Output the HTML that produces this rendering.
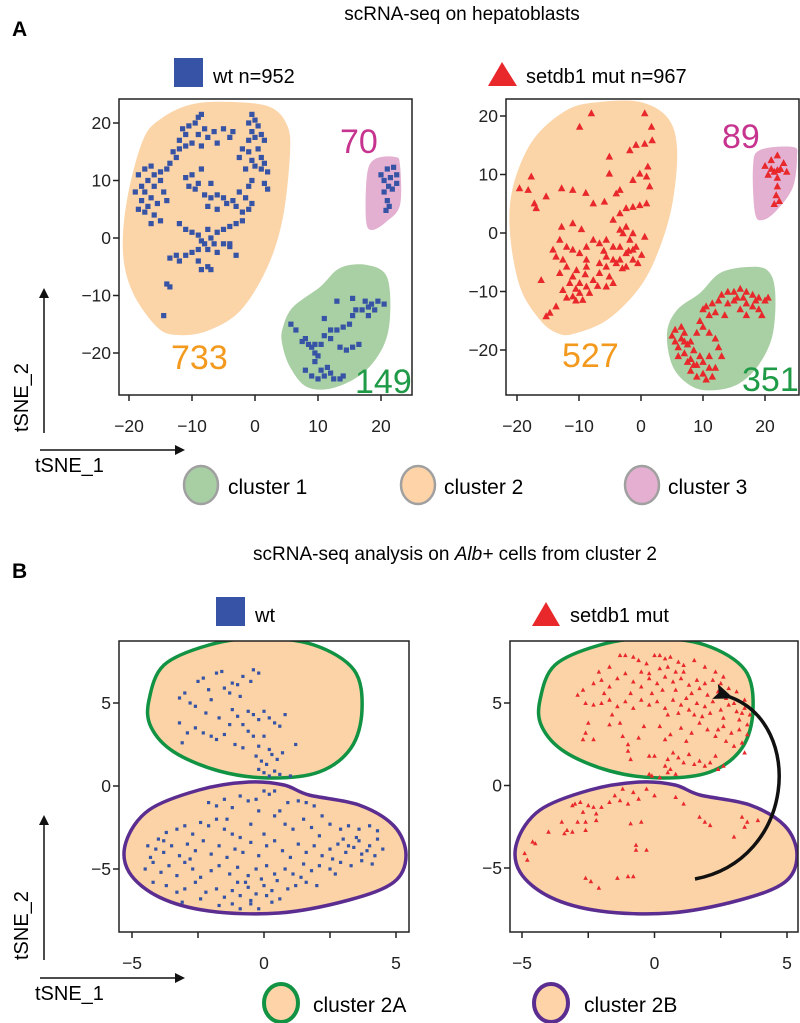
<!DOCTYPE html>
<html><head><meta charset="utf-8">
<style>
html,body{margin:0;padding:0;background:#fff;}
svg{display:block;font-family:"Liberation Sans",Arial,sans-serif;}
.tick{font-size:17.5px;fill:#222;}
</style></head>
<body>
<svg id="fig" width="800" height="1023" viewBox="0 0 800 1023" xmlns="http://www.w3.org/2000/svg">
<defs>
<marker id="ah" markerWidth="10" markerHeight="10" refX="8" refY="5" orient="auto" markerUnits="userSpaceOnUse">
<path d="M0,0 L10,5 L0,10 z" fill="#111"/></marker>
<marker id="ah2" markerWidth="20" markerHeight="16" refX="4" refY="8" orient="auto" markerUnits="userSpaceOnUse">
<path d="M0,8 L20,0 L16,8 L20,16 z" fill="#111"/></marker>
<clipPath id="cA1"><rect x="119" y="99" width="293" height="296"/></clipPath>
<clipPath id="cA2"><rect x="506" y="99" width="293" height="296"/></clipPath>
<clipPath id="cB1"><rect x="119" y="641" width="290" height="291"/></clipPath>
<clipPath id="cB2"><rect x="510" y="641" width="288" height="291"/></clipPath>
</defs>

<text x="12" y="36" font-size="21" font-weight="bold">A</text>
<text x="462" y="20" text-anchor="middle" font-size="19">scRNA-seq on hepatoblasts</text>
<text x="12" y="578" font-size="21" font-weight="bold">B</text>
<text x="455" y="560" text-anchor="middle" font-size="19">scRNA-seq analysis on <tspan font-style="italic">Alb+</tspan> cells from cluster 2</text>

<rect x="174" y="58" width="29" height="29" fill="#3653a5"/>
<text x="213" y="83" font-size="20">wt n=952</text>
<path d="M488,86 L502,62 L517,86 z" fill="#e8282b"/>
<text x="526" y="83" font-size="20">setdb1 mut n=967</text>

<rect x="216" y="597" width="29" height="29" fill="#3653a5"/>
<text x="255" y="622" font-size="20">wt</text>
<path d="M532,626 L546,602 L560,626 z" fill="#e8282b"/>
<text x="570" y="622" font-size="20">setdb1 mut</text>

<ellipse cx="201" cy="485" rx="17" ry="19" fill="#a8cfa4" stroke="#a0a0a0" stroke-width="2.5"/>
<text x="228" y="494" font-size="21">cluster 1</text>
<ellipse cx="418" cy="485" rx="17" ry="19" fill="#fdd3a7" stroke="#a0a0a0" stroke-width="2.5"/>
<text x="444" y="494" font-size="21">cluster 2</text>
<ellipse cx="642" cy="485" rx="17" ry="19" fill="#e4afd0" stroke="#a0a0a0" stroke-width="2.5"/>
<text x="668" y="494" font-size="21">cluster 3</text>

<ellipse cx="281" cy="1003" rx="17" ry="19" fill="#fdd3a7" stroke="#129343" stroke-width="4"/>
<text x="313" y="1012" font-size="21">cluster 2A</text>
<ellipse cx="551" cy="1003" rx="17" ry="19" fill="#fdd3a7" stroke="#5b2d91" stroke-width="4"/>
<text x="584" y="1012" font-size="21">cluster 2B</text>

<line x1="44" y1="433" x2="44" y2="290" stroke="#111" stroke-width="1.5" marker-end="url(#ah)"/>
<text transform="translate(28,432) rotate(-90)" font-size="20">tSNE_2</text>
<line x1="40" y1="450" x2="183" y2="450" stroke="#111" stroke-width="1.5" marker-end="url(#ah)"/>
<text x="35" y="472" font-size="20">tSNE_1</text>
<line x1="44" y1="960" x2="44" y2="817" stroke="#111" stroke-width="1.5" marker-end="url(#ah)"/>
<text transform="translate(28,960) rotate(-90)" font-size="20">tSNE_2</text>
<line x1="40" y1="978" x2="183" y2="978" stroke="#111" stroke-width="1.5" marker-end="url(#ah)"/>
<text x="35" y="1000" font-size="20">tSNE_1</text>

<g id="plots"></g>
</svg>
<script>
// ---------- DATA ----------
const wtA_x_ticks = [-20,-10,0,10,20];
const wtA_y_ticks = [20,10,0,-10,-20];
const B_x_ticks = [-5,0,5];
const B_x_minor = [-5,-2.5,0,2.5,5];
const B_y_ticks = [5,0,-5];
const clusterCountsWt = [733,149,70];
const clusterCountsMut = [527,351,89];

const wtA_points = [[-18.5,11],[-17.5,12],[-16.5,12.5],[-16,11],[-17,10],[-18,9],[-19,8],[-17.5,8],[-16,9],[-15,10],[-14.5,8],[-16.5,7],[-18,6.5],[-17,5.5],[-15.5,6],[-14,6.5],[-17.5,4.5],[-16,4],[-15,3],[-16.5,2.5],[-15,11.5],[-14,12],[-18.5,5],
[-13.5,13],[-12.5,14],[-12,15.5],[-13,15],
[-12,17],[-11,18],[-10.5,19.5],[-9.5,20],[-9,21],[-8.5,21.5],[-11.5,19],[-10,16.5],[-9,18],[-8,19],[-8.5,16],[-11,16],[-7.5,17.5],[-6.5,18.5],[-5,19],[-4,17.5],[-3.5,18.5],[-6,16.5],
[-0.5,21.5],[0,20.5],[-1,20],[0.5,19.5],[-0.5,18.5],[1,18],[0,17.5],[-1,17],[1.5,17],[-2,15.5],[-1,15],[0.5,15.5],[1,14],[-0.5,13.5],[0,12.5],[-1.5,12],[1,12],[2,11.5],[1.5,13],[-2.5,14],[2,8.5],[1.5,9.5],
[-11,10.5],[-10,11],[-10.5,9],[-9.5,8.5],[-9,9.5],[-8,7.5],[-7,7],[-6,7.5],[-5,7],[-4.5,6],[-3.5,6.5],[-3,5.5],[-2,4.5],[-1,5],[-0.5,6],[-1.5,7],[-2.5,8],[-1,9],[-0.5,10],[-6,5],[-7.5,5.5],[-8.5,12],[-7,9.5],
[-12,2.5],[-11,1.5],[-10,1],[-9,0.5],[-8.5,-0.5],[-8,-1],[-7,0],[-6.5,-1],[-7.5,1.5],[-6,1],[-5,1.5],[-4,2],[-3,2.5],[-2,3],[-5,-1],[-4,-1.5],[-3,-3],[-6,-2.5],[-7.5,-2],[-9,-2],[-10,-2.5],[-11,-3],[-12.5,-3],[-13.5,-3.5],[-12,-4],[-9,-4],[-8.5,-5.5],[-7.5,-5],[-7,-5.5],[-4,-1],
[-14,-8],[-13.5,-8.5],[-14.5,-13.5],
[20,11],[21,12],[22,12.3],[22.5,11],[21.5,10.5],[20.5,10],[21.2,9],[20.5,8],[21.8,8.5],[21,6.5],[21.3,5.5],[20.8,4.8],[22.5,9.5],
[5.7,-15],[6.5,-16],[7.5,-18],[8,-17.5],[8.5,-18.5],[9.5,-18.5],[9,-19],[9.5,-20],[10.5,-18.5],[11,-17],[12,-16],[13,-16],[14,-15.5],[15,-15],[15.5,-13.5],[16,-12.5],[17,-12.5],[18,-12],[18.5,-11.5],[19,-12.5],[19.5,-11],[20.5,-11.5],[18,-13.5],[17.5,-11],[15.5,-10.5],[13,-11],[11,-14],[12,-17.5],[13.5,-19],[14.5,-19.5],[15.5,-19],[16.5,-18.5],[8,-23],[9,-24],[10,-24.5],[11,-24],[12,-23.5],[12.5,-24.5],[13.5,-24.5],[10.5,-23],[11.5,-22.5],[14,-24],[9.5,-21.5],[10,-20.5]];

const mutA_points = [[-19.6,7.7],[-18.2,7.4],[-17.7,9.7],[-17.2,5.1],[-16.9,4.3],[-15.3,6.3],[-12.8,7.7],[-11,7.4],[-8.9,6.9],[-7.7,5.1],[-5.9,5.4],[-5.1,13.1],[-5.1,10.2],[-4,6.8],[-3.4,7.4],[-1.8,14.2],[-0.8,15.1],[0.6,15.3],[1.7,18.2],[1.8,15.9],[0.6,20.5],[-8,20.5],[-9.9,18.2],[-1.3,9.1],[-0.2,10.2],[0.9,9.7],[1.1,11.4],[1.4,8],[0.9,5.1],[-0.2,4.8],[-1.3,4.5],[-2.4,4.3],[-3.4,3.4],[-4.5,2.3],[-3.4,0.6],[-2.9,0],[-2.4,1.1],[-1.3,0],[-1.8,-1.1],[-1.3,-2.8],[-2.4,-3.4],[-3.4,-4.5],[-4.5,-2.3],[-5.6,-1.1],[-6.7,-1.7],[-7.7,-1.1],[-8.8,-2.3],[-9.9,-3.4],[-11,-2.8],[-12,-2.3],[-13.1,-1.1],[-14.2,-2.8],[-13.7,-4],[-12.6,-4.5],[-12,-5.7],[-11,-7.4],[-9.9,-8.5],[-8.8,-9.1],[-9.9,-10.2],[-11,-10.8],[-9.4,-11.4],[-8.3,-10.2],[-7.7,-8],[-6.7,-6.8],[-5.6,-5.7],[-5.1,-7.4],[-4.5,-8.5],[-5.6,-9.1],[-6.7,-5.1],[-8.8,-5.7],[-10.4,-6.3],[-11.5,-8.5],[-12.6,-9.7],[-13.1,-6.8],[-13.7,-12.5],[-14.7,-13.6],[-15.3,-14.2],[-16.1,-8],[-12.8,1.1],[-11,1.7],[-9.6,0.7],[-0.8,-2.3],[-0.5,-5.1],[0.1,-3.7],[0.6,-0.6],[-2.4,-5.7],[-4,-5.1],[-1.3,-4.5],[-3.4,-2.3],[-5.6,-4],[-8.8,-4.5],[-4.5,-4.5],[-10.5,-9.5],[-7,-9],[-3,-6],[-2,-3],[-6,-3],[-9,-7],[-12,-11],[-10.5,-11.5],
[20,11.5],[21,12.5],[22,13.3],[23,12],[23.5,10.5],[22.5,11],[21.5,10.5],[20.5,10],[22,9.5],[22,8],[21.8,6.5],[21.5,5],[22.3,5.5],[22,10.8],[21,11],
[5,-17.5],[5.5,-18.5],[6,-19.5],[6.5,-18],[7,-17],[7.5,-19],[8,-18.5],[6,-21],[7,-20.5],[8.5,-20],[9,-17],[10,-16],[9.5,-15],[10,-13],[10.5,-12.5],[11,-14],[11.5,-12],[12.5,-11.5],[13,-10.5],[14,-10],[15,-10],[16,-9.5],[17,-10],[18,-10.5],[19,-11],[20,-11.5],[20.5,-11],[19,-13],[18,-12.5],[17,-12],[16,-13],[15,-11.5],[14,-12],[13.5,-14],[12,-13.5],[11,-17],[12,-18],[12.5,-19.5],[11,-21],[10,-22],[9,-22.5],[8,-23.5],[9,-24.5],[10,-24],[11,-23],[12,-23],[10.5,-25],[9.5,-21],[8,-21.5],[7.5,-22],[6.5,-16],[13,-21],[17,-14],[19.5,-14],[16.5,-11],[5.5,-16.5],[7,-18.5],[8.5,-22.5],[11.5,-24.5],[18.5,-11.5],[15.5,-11]];

const wtB_points = [[-3.2,5.3],[-3,5.6],[-2.8,5],[-2.6,4.8],[-2.5,6.3],[-2.3,6.5],[-2.1,5.8],[-2,5.2],[-1.8,6.8],[-1.6,6.9],[-1.5,5.9],[-1.3,5.6],[-1.2,6.2],[-1,6.1],[-0.9,5.4],[-0.8,6.6],[-0.5,6.3],[-0.4,7],[-0.2,6.8],[-1.2,4.6],[-1,4.2],[-0.8,3.7],[-0.6,4.5],[-0.4,4.3],[-0.2,4],[0,4.5],[0.2,4.1],[0.4,3.8],[0.6,3.6],[-3.2,3.8],[-2.9,3.2],[-2.6,3.5],[-2.3,3.2],[-2,3],[-1.8,2.8],[-1.5,3.1],[-1.3,3.7],[-1.1,2.5],[-0.8,2.3],[-0.6,3.3],[-0.4,3],[-0.2,2.4],[0,3],[0.2,2.2],[-0.3,1.8],[-0.1,1.5],[0.1,1.3],[0.3,1.9],[0.5,1.6],[0.7,2],[-0.2,1],[0,0.8],[0.2,0.6],[0.4,0.9],[0.6,0.7],[1,0.6],[1.2,2.5],[-3.1,2.6],[-2.2,4.4],[-1.7,4.1],[0.8,4.3],
[-2.1,-1],[-1.8,-1.2],[-1.5,-0.8],[-1.2,-1.3],[-0.9,-0.6],[-0.6,-0.9],[-0.3,-0.8],[0,-0.3],[0.2,-0.5],[0.4,-0.3],[0.6,-1.5],[0.9,-1],[1.3,-0.9],[1.6,-1],[1.9,-1.2],[-0.2,-1.5],[-1.4,-2],
[-4,-3.2],[-3.7,-2.8],[-3.3,-2.6],[-3,-2.4],[-2.7,-2.9],[-2.4,-2.2],[-2.1,-2.4],[-1.8,-2],[-1.5,-2.6],[-1.2,-2.9],[-0.9,-3.1],[-0.5,-2.3],[0,-2.9],[0.4,-1.8],[0.8,-2.3],[1.1,-2.6],[1.5,-2],[1.8,-2.5],[2.2,-1.8],[2.5,-2.3],[2.9,-2.6],[3.2,-2.4],[3.6,-2.6],[4,-2.4],[4.3,-2.7],[2.1,-3],
[-4.4,-3.6],[-4.1,-3.8],[-3.8,-4],[-3.5,-3.6],[-3.2,-4.2],[-2.9,-3.5],[-2.6,-3.9],[-2.3,-3.3],[-2,-4.1],[-1.7,-3.6],[-1.4,-4.3],[-1.1,-3.8],[-0.8,-4],[-0.5,-3.4],[-0.2,-4.2],[0.1,-3.6],[0.4,-3.3],[0.7,-3.9],[1,-4.3],[1.3,-3.5],[1.6,-4],[1.9,-3.6],[2.2,-4.2],[2.5,-3.8],[2.8,-3.5],[3.1,-4],[3.4,-3.7],[3.7,-4.1],[4,-3.6],[4.3,-3.2],[4.5,-3.8],[3,-3.2],[3.5,-3.1],
[-4.5,-5],[-4.2,-4.6],[-3.9,-5.2],[-3.6,-4.8],[-3.3,-5.4],[-3,-4.6],[-2.7,-5],[-2.4,-5.5],[-2,-5.1],[-1.7,-4.8],[-1.3,-5.3],[-1,-4.9],[-0.6,-5.4],[-0.3,-5],[0.1,-4.8],[0.4,-5.3],[0.8,-5],[1.1,-5.3],[1.5,-4.7],[1.8,-5.1],[2.1,-4.8],[2.5,-5],[2.9,-4.6],[3.3,-4.8],[3.7,-4.5],[4.1,-4.7],[2.7,-5.3],
[-4.2,-5.8],[-3.7,-6],[-3.3,-6.4],[-3,-6.2],[-2.6,-5.8],[-2.2,-6.4],[-1.8,-6.2],[-1.5,-6.7],[-1.2,-6.3],[-0.9,-6.6],[-0.6,-6.1],[-0.3,-6.5],[0,-6],[0.3,-6.3],[0.6,-6.8],[0.9,-6.2],[1.2,-6],[1.6,-5.8],[2,-6],[-2.4,-6.8],[-1.2,-7.1],[-0.9,-7.4],[-0.5,-7.1],[-0.2,-7.4],[0.3,-7],[-1.7,-7.2],[-0.7,-5.8],[0.5,-5.7],[-3.1,-7],
[3.2,-3.6],[3.9,-3.9],[3.6,-3.3],[4.2,-4.2],[2.6,-4.4],[-3.8,-3.3],[-4.3,-4.3],[-1,-5.8],[-0.1,-5.6],[1.4,-5.5],[-2.8,-4.4],[-0.5,-6.9],[0.1,-6.6]];

const mutB_points = [[-1.3,7.9],[-1.1,7.9],[-0.8,7.8],[-0.6,7.6],[-0.3,7.4],[0,7.9],[0.2,7.9],[0.4,7.7],[0.6,7.8],[0.9,7.5],[1.1,7.3],[1.5,7.6],[1.9,7.2],[2.3,6.9],[-1.7,7.2],[-2.1,6.9],[-0.2,6.8],[0.5,7.2],[0.8,6.9],
[-2.9,5.5],[-2.7,5.8],[-2.3,6.2],[-2,6.4],[-1.7,6],[-1.4,6.5],[-1.1,6.8],[-0.8,6.3],[-0.5,6],[-0.2,6.5],[0.1,6.2],[0.4,6.6],[0.7,6.3],[1,6.5],[1.3,6.1],[1.6,6.4],[1.9,6.2],[2.2,6.4],[2.5,6.2],[2.8,5.9],[3.1,5.7],[-0.9,5.6],[0.3,5.8],[1.4,5.6],[2.4,5.7],[-1.9,5.6],[3.4,5.2],
[-2.6,5],[-2.3,4.9],[-2,5],[-1.7,5.2],[-1.4,4.8],[-1.1,5.1],[-0.8,4.7],[-0.5,5.2],[-0.2,4.9],[0.1,5.1],[0.4,4.7],[0.7,5.2],[1,4.9],[1.3,4.6],[1.6,5],[1.9,4.8],[2.2,5.1],[2.5,4.6],[2.8,4.9],[3.1,4.5],[3.4,4.7],[3.6,4.3],[-1.6,4.3],[0.5,4.3],[1.8,4.2],[2.6,4.1],[3.2,4],
[-2.5,3.8],[-2.6,3.2],[-2.7,2.8],[-2.3,2.8],[-1.7,3.7],[-1.3,3.8],[-1.2,3],[-0.6,2.9],[0.4,2.8],[0.6,3.1],[1,3.5],[1.4,3.2],[1.7,3.8],[2,3.4],[2.3,3],[2.6,3.6],[2.9,3.2],[3.2,3.4],[3.5,3.1],[3.3,2.6],[3,2.4],[2.7,2.7],[1.2,2.7],[-1,2.5],[-0.4,3.6],[0.2,3.6],
[-1,2.1],[-0.9,1.6],[-0.2,1.8],[0,1.8],[0.5,1.6],[0.7,2],[0.9,1.7],[1.1,1.4],[1.3,1.9],[1.5,1.3],[1.7,1.5],[1.9,1.2],[2.1,1.4],[2.3,1.8],[0.4,1.2],[0.6,1],[0.8,0.7],[-0.2,0.7],[-0.1,0.6],[0.2,0.5],[0.5,0.8],[2.4,1],[2.6,1.2],[3.4,2],
[1.2,5.3],[2,5.5],[2.7,5.3],[0.8,5.8],[1.7,5.9],[3,5],[3.3,4.4],[2.1,4.4],[1.5,4.3],[0.9,4.4],[3.5,3.7],[2.4,3.4],[-0.1,5.6],[1.1,6.9],[2.6,6.6],[0.2,7.1],[-0.5,6.9],
[-1.2,-0.2],[-0.8,-0.4],[-0.3,-0.2],[0,-0.6],[-1.5,-0.6],[-1.7,-1],[-1.3,-0.9],[-1,-1.1],[-0.6,-0.8],[0.8,-0.7],[1.1,-1.1],[-3.1,-1.2],[-3,-1.1],[-2.8,-1],[-2.5,-1.2],[-2.3,-1.3],[-2,-1.3],[-2.2,-1.7],[-2.7,-1.6],[-3.5,-2.2],[-2.9,-2.2],[-2.6,-2.2],[-2.2,-2.1],[-3.3,-2.7],[-3.4,-2.9],[-3.1,-2.8],[-2.6,-2.7],[-4,-2.8],[-4.6,-3.4],[-4.5,-3.5],[-4.9,-4.1],[-4.8,-4.5],[-0.9,-2.3],[-0.5,-2.2],[-0.7,-3.9],[-0.3,-3.9],[-0.7,-3.6],[1.7,-1.9],[1.9,-2.2],[2.1,-2.4],[3.3,-1.9],[3.5,-2.2],[3.4,-2.5],[3,-3.1],[3.9,-2.1],[-2.6,-5.6],[-2.4,-5.8],[-2.1,-6.2],[-1.4,-5.6],[-1,-5.5],[-0.8,-5.5]];

// ---------- HELPERS ----------
const NS = 'http://www.w3.org/2000/svg';
const root = document.getElementById('plots');
function mk(tag, attrs, parent){const e=document.createElementNS(NS,tag);for(const k in attrs)e.setAttribute(k,attrs[k]);(parent||root).appendChild(e);return e;}
function smooth(pts){
  let d='M'+pts[0][0]+','+pts[0][1];const n=pts.length;
  for(let i=0;i<n;i++){const p0=pts[(i-1+n)%n],p1=pts[i],p2=pts[(i+1)%n],p3=pts[(i+2)%n];
    const c1=[p1[0]+(p2[0]-p0[0])/6,p1[1]+(p2[1]-p0[1])/6],c2=[p2[0]-(p3[0]-p1[0])/6,p2[1]-(p3[1]-p1[1])/6];
    d+=' C'+c1[0].toFixed(1)+','+c1[1].toFixed(1)+' '+c2[0].toFixed(1)+','+c2[1].toFixed(1)+' '+p2[0]+','+p2[1];}
  return d+'Z';}
function linScale(d0,d1,r0,r1){return v=>r0+(v-d0)*(r1-r0)/(d1-d0);}

function drawPanel(cfg){
  const g = mk('g',{});
  
  
  const sx = linScale(cfg.xd[0],cfg.xd[1],cfg.xr[0],cfg.xr[1]);
  const sy = linScale(cfg.yd[0],cfg.yd[1],cfg.yr[0],cfg.yr[1]);
  const clip = mk('g',{'clip-path':'url(#'+cfg.clip+')'},g);
  cfg.hulls.forEach(h=>{
    const p = mk('path',{d:smooth(h.pts),fill:h.fill,stroke:h.stroke||'none','stroke-width':h.sw||0},clip);
    
    
  });
  const pg = mk('g',{fill:cfg.color},clip);
  
  
  const s = cfg.size;
  cfg.points.forEach(pt=>{
    const x=sx(pt[0]), y=sy(pt[1]);
    let m;
    if(cfg.shape==='sq') m = mk('rect',{x:(x-s/2).toFixed(1),y:(y-s/2).toFixed(1),width:s,height:s},pg);
    else m = mk('path',{d:'M'+(x-s/2).toFixed(1)+','+(y+s*0.43).toFixed(1)+' L'+x.toFixed(1)+','+(y-s*0.5).toFixed(1)+' L'+(x+s/2).toFixed(1)+','+(y+s*0.43).toFixed(1)+'Z'},pg);
    
    
  });
  const fr = mk('rect',{x:cfg.box[0],y:cfg.box[1],width:cfg.box[2],height:cfg.box[3],fill:'none',stroke:'#222','stroke-width':1.5},g);
  
  
  const by = cfg.box[1]+cfg.box[3], bx = cfg.box[0];
  (cfg.xminor||cfg.xticks).forEach(t=>{
    const l = mk('line',{x1:sx(t),x2:sx(t),y1:by,y2:by+6,stroke:'#222','stroke-width':1.5},g);
    
    
  });
  cfg.xticks.forEach(t=>{
    const tx = mk('text',{x:sx(t),y:by+37,'text-anchor':'middle',class:'tick'},g);
    tx.textContent = (t<0?'\u2212'+(-t):String(t));
    
    
  });
  cfg.yticks.forEach(t=>{
    const l = mk('line',{x1:bx-6,x2:bx,y1:sy(t),y2:sy(t),stroke:'#222','stroke-width':1.5},g);
    
    
    const tx = mk('text',{x:bx-8,y:sy(t)+6,'text-anchor':'end',class:'tick'},g);
    tx.textContent = (t<0?'\u2212'+(-t):String(t));
    
    
  });
  (cfg.labels||[]).forEach(lb=>{
    const tx = mk('text',{x:lb.x,y:lb.y,fill:lb.c,'font-size':lb.fs||34},g);
    tx.textContent = String(lb.t);
    
    
  });
}

drawPanel({name:'wt-tsne-plot',clip:'cA1',box:[119,99,293,296],xd:[-20,20],xr:[129,381],yd:[20,-20],yr:[123,353],
  xticks:wtA_x_ticks,yticks:wtA_y_ticks,color:'#3653a5',shape:'sq',size:5.2,points:wtA_points,
  hulls:[
   {name:'cluster-2-hull',fill:'#fbd4a8',pts:[[143,140],[127,200],[123,253],[133,293],[157,327],[177,335],[207,331],[240,311],[267,268],[283,217],[290,153],[287,125],[270,107],[233,102],[193,104],[162,118]]},
   {name:'cluster-1-hull',fill:'#a9cfa4',pts:[[283,327],[293,307],[320,287],[340,268],[367,265],[387,277],[390,317],[383,347],[363,373],[333,388],[307,387],[290,367],[282,343]]},
   {name:'cluster-3-hull',fill:'#e3b0d1',pts:[[367,175],[375,159],[395,157],[400,165],[400,205],[386,222],[372,230],[366,220]]}],
  labels:[{name:'cluster-2-count',t:clusterCountsWt[0],x:171,y:369,c:'#f39a1e'},{name:'cluster-1-count',t:clusterCountsWt[1],x:355,y:393,c:'#1f9a46'},{name:'cluster-3-count',t:clusterCountsWt[2],x:340,y:153,c:'#c7348f'}]});

drawPanel({name:'mut-tsne-plot',clip:'cA2',box:[506,99,293,296],xd:[-20,20],xr:[517,765],yd:[20,-20],yr:[116,350],
  xticks:wtA_x_ticks,yticks:wtA_y_ticks,color:'#e8282b',shape:'tri',size:7.5,points:mutA_points,
  hulls:[
   {name:'cluster-2-hull',fill:'#fbd4a8',pts:[[510,233],[513,187],[533,140],[567,110],[600,102],[640,102],[667,117],[677,147],[673,200],[660,247],[640,287],[607,320],[573,334],[557,333],[540,320],[520,287]]},
   {name:'cluster-1-hull',fill:'#a9cfa4',pts:[[667,333],[677,310],[700,293],[720,273],[747,267],[767,270],[775,290],[773,333],[760,363],[740,383],[717,390],[693,387],[673,367]]},
   {name:'cluster-3-hull',fill:'#e3b0d1',pts:[[753,167],[760,150],[793,147],[797,157],[793,187],[777,210],[763,220],[755,213]]}],
  labels:[{name:'cluster-2-count',t:clusterCountsMut[0],x:562,y:367,c:'#f39a1e'},{name:'cluster-1-count',t:clusterCountsMut[1],x:742,y:391,c:'#1f9a46'},{name:'cluster-3-count',t:clusterCountsMut[2],x:722,y:148,c:'#c7348f'}]});

function hullsB(L){return [
  {name:'cluster-2a-hull',fill:'#fcd3a6',stroke:'#129343',sw:3.5,pts:[[L+30,700],[L+45,665],[L+90,645],[L+140,638],[L+195,645],[L+235,670],[L+243,710],[L+232,748],[L+200,772],[L+150,778],[L+100,771],[L+55,752],[L+32,727]]},
  {name:'cluster-2b-hull',fill:'#fcd3a6',stroke:'#5b2d91',sw:3.5,pts:[[L+7,842],[L+30,810],[L+80,790],[L+130,782],[L+165,785],[L+190,795],[L+240,805],[L+275,826],[L+287,855],[L+275,882],[L+230,900],[L+160,913],[L+90,911],[L+40,897],[L+10,872]]}];}

drawPanel({name:'wt-alb-tsne-plot',clip:'cB1',box:[119,641,290,291],xd:[-5,5],xr:[132,396],yd:[5,-5],yr:[703,869],
  xticks:B_x_ticks,xminor:B_x_minor,yticks:B_y_ticks,color:'#3653a5',shape:'sq',size:3.2,points:wtB_points,hulls:hullsB(119)});
drawPanel({name:'mut-alb-tsne-plot',clip:'cB2',box:[510,641,288,291],xd:[-5,5],xr:[522,787],yd:[5,-5],yr:[703,868],
  xticks:B_x_ticks,xminor:B_x_minor,yticks:B_y_ticks,color:'#e8282b',shape:'tri',size:4.6,points:mutB_points,hulls:hullsB(510)});

const arr = mk('path',{d:'M695,879 C795,860 805,725 730,697',fill:'none',stroke:'#111','stroke-width':3.5,'marker-end':'url(#ah2)'});


</script>
</body></html>
